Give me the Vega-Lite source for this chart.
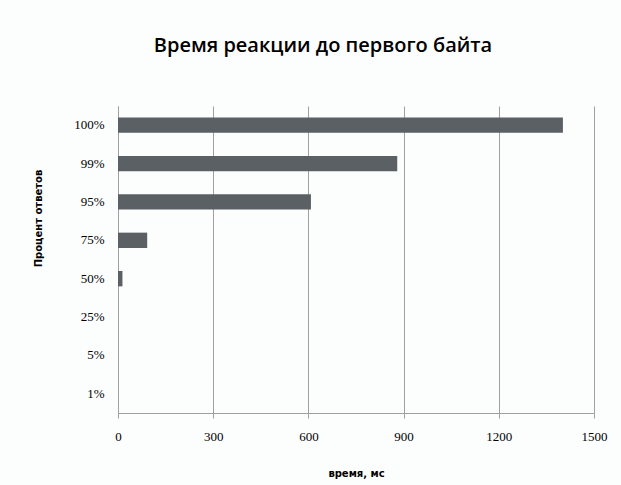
{
  "$schema": "https://vega.github.io/schema/vega-lite/v6.json",
  "autosize": {"type": "none"},
  "width": 476,
  "height": 307,
  "padding": {"left": 118, "top": 106, "right": 27, "bottom": 72},
  "background": "#fcfdfd",
  "title": {
    "text": "Время реакции до первого байта",
    "font": "Open Sans",
    "fontSize": 20,
    "fontWeight": 600,
    "color": "#000000",
    "anchor": "middle",
    "dx": -33,
    "offset": 50
  },
  "data": {
    "values": [
      {"pct": "100%", "time": 1402},
      {"pct": "99%", "time": 880},
      {"pct": "95%", "time": 608},
      {"pct": "75%", "time": 92},
      {"pct": "50%", "time": 14},
      {"pct": "25%", "time": 0},
      {"pct": "5%", "time": 0},
      {"pct": "1%", "time": 0}
    ]
  },
  "mark": {"type": "bar", "color": "#5b6064"},
  "encoding": {
    "y": {
      "field": "pct",
      "type": "nominal",
      "sort": null,
      "scale": {"paddingInner": 0.6, "paddingOuter": 0.3},
      "axis": {
        "title": "Процент ответов",
        "titleFont": "DejaVu Sans",
        "titleFontSize": 10,
        "titleFontWeight": "bold",
        "titleColor": "#000000",
        "titleX": -80,
        "titleY": 112,
        "titleBaseline": "middle",
        "titleAlign": "center",
        "labelFont": "Liberation Serif",
        "labelFontSize": 13,
        "labelColor": "#000000",
        "labelPadding": 14,
        "ticks": false,
        "domainColor": "#a0a0a0",
        "grid": false
      }
    },
    "x": {
      "field": "time",
      "type": "quantitative",
      "scale": {"domain": [0, 1500], "nice": false},
      "axis": {
        "title": "время, мс",
        "titleFont": "DejaVu Sans",
        "titleFontSize": 10,
        "titleFontWeight": "bold",
        "titleColor": "#000000",
        "titlePadding": 25,
        "values": [0, 300, 600, 900, 1200, 1500],
        "format": "d",
        "labelFont": "Liberation Serif",
        "labelFontSize": 13,
        "labelColor": "#000000",
        "labelPadding": 12,
        "tickSize": 5,
        "tickColor": "#a0a0a0",
        "domainColor": "#a0a0a0",
        "gridColor": "#a0a0a0",
        "labelFlush": false
      }
    }
  },
  "config": {"view": {"stroke": null}}
}
